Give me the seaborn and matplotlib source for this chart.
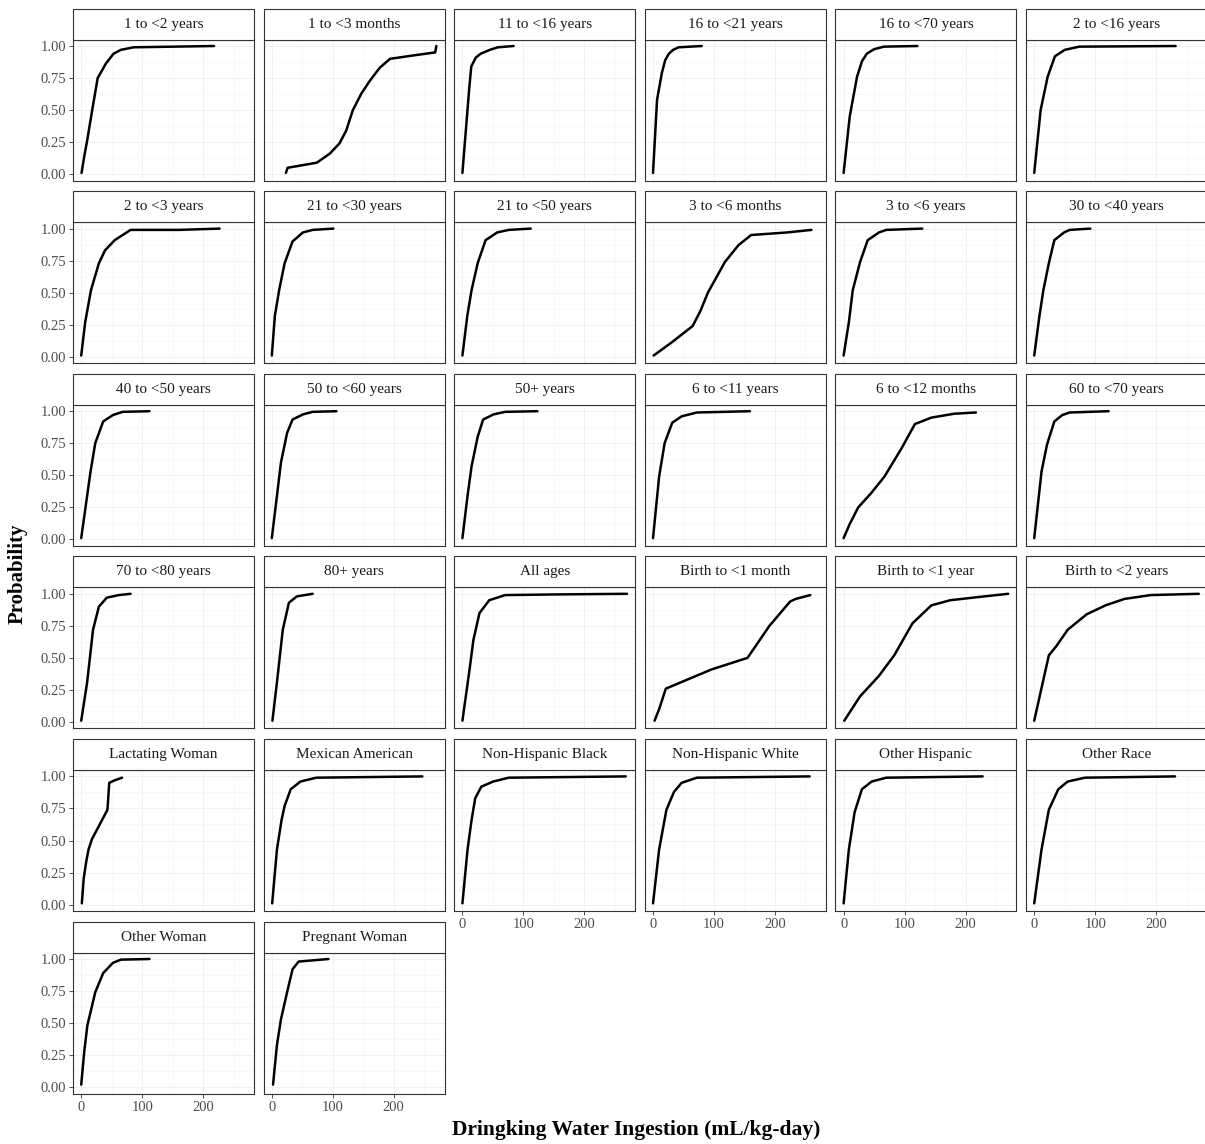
import numpy as np
import pandas as pd
import seaborn as sns
import matplotlib
matplotlib.use("Agg")
import matplotlib.pyplot as plt
from matplotlib.patches import Rectangle
from matplotlib.ticker import FormatStrFormatter

# ---------------- data ----------------
categories = [
    "1 to <2 years", "1 to <3 months", "11 to <16 years", "16 to <21 years", "16 to <70 years", "2 to <16 years",
    "2 to <3 years", "21 to <30 years", "21 to <50 years", "3 to <6 months", "3 to <6 years", "30 to <40 years",
    "40 to <50 years", "50 to <60 years", "50+ years", "6 to <11 years", "6 to <12 months", "60 to <70 years",
    "70 to <80 years", "80+ years", "All ages", "Birth to <1 month", "Birth to <1 year", "Birth to <2 years",
    "Lactating Woman", "Mexican American", "Non-Hispanic Black", "Non-Hispanic White", "Other Hispanic", "Other Race",
    "Other Woman", "Pregnant Woman",
]

x_1to2y = [0.5, 5, 10, 18, 27, 33, 40, 53, 65, 86, 218]
p_1to2y = [0.01, 0.14, 0.27, 0.50, 0.75, 0.80, 0.86, 0.94, 0.97, 0.99, 1.0]
x_1to3m = [23, 26, 50, 74, 95, 111, 122, 133, 147, 161, 177, 194, 230, 268, 270]
p_1to3m = [0.01, 0.05, 0.07, 0.09, 0.16, 0.24, 0.34, 0.50, 0.63, 0.73, 0.83, 0.90, 0.925, 0.95, 1.0]
x_11to16y = [0, 11, 14.5, 22, 30, 45, 58, 84]
p_11to16y = [0.01, 0.66, 0.84, 0.91, 0.94, 0.97, 0.99, 1.0]
x_16to21y = [0, 6.6, 14.5, 20, 26, 33, 42, 80]
p_16to21y = [0.01, 0.58, 0.79, 0.89, 0.94, 0.97, 0.99, 1.0]
x_16to70y = [0, 10, 22, 30, 38, 50, 66, 121]
p_16to70y = [0.01, 0.45, 0.76, 0.88, 0.94, 0.975, 0.995, 1.0]
x_2to16y = [0, 10.5, 22, 34, 50, 74, 232]
p_2to16y = [0.01, 0.50, 0.76, 0.92, 0.97, 0.995, 1.0]
x_2to3y = [0, 6.5, 16, 29, 39, 55, 81, 160, 227]
p_2to3y = [0.01, 0.27, 0.52, 0.73, 0.83, 0.91, 0.99, 0.99, 1.0]
x_21to30y = [0, 5, 12, 21, 34, 51, 67, 101]
p_21to30y = [0.01, 0.32, 0.52, 0.73, 0.90, 0.97, 0.99, 1.0]
x_21to50y = [0, 8, 15, 25, 38, 57, 76, 112]
p_21to50y = [0.01, 0.32, 0.52, 0.73, 0.91, 0.97, 0.99, 1.0]
x_3to6m = [1, 30, 65, 78, 90, 104, 118, 140, 161, 220, 260]
p_3to6m = [0.01, 0.11, 0.24, 0.36, 0.50, 0.62, 0.74, 0.87, 0.95, 0.97, 0.99]
x_3to6y = [0, 8.6, 15, 27, 39.5, 58, 70, 129]
p_3to6y = [0.01, 0.27, 0.52, 0.74, 0.91, 0.97, 0.99, 1.0]
x_30to40y = [0, 8.6, 15, 24, 33, 49, 58, 92]
p_30to40y = [0.01, 0.32, 0.52, 0.73, 0.91, 0.97, 0.99, 1.0]
x_40to50y = [0, 9.7, 15, 23, 36, 52, 68, 112]
p_40to50y = [0.01, 0.34, 0.52, 0.75, 0.92, 0.97, 0.995, 1.0]
x_50to60y = [0, 8.4, 15, 25, 34, 51, 67, 106]
p_50to60y = [0.01, 0.34, 0.60, 0.83, 0.935, 0.975, 0.995, 1.0]
x_50plus = [0, 8.4, 15, 25, 34, 51, 70, 123]
p_50plus = [0.01, 0.34, 0.57, 0.80, 0.935, 0.975, 0.995, 1.0]
x_6to11y = [0, 10, 19, 31.5, 47, 72, 159]
p_6to11y = [0.01, 0.49, 0.75, 0.91, 0.96, 0.99, 1.0]
x_6to12m = [0, 10, 24, 45, 67, 95, 117, 144, 181, 217]
p_6to12m = [0.01, 0.12, 0.25, 0.36, 0.49, 0.71, 0.90, 0.95, 0.98, 0.99]
x_60to70y = [0, 12, 21, 33, 46, 58, 122]
p_60to70y = [0.01, 0.53, 0.74, 0.92, 0.97, 0.99, 1.0]
x_70to80y = [0, 9.7, 19.4, 29, 42, 61.5, 81]
p_70to80y = [0.01, 0.31, 0.72, 0.90, 0.97, 0.99, 1.0]
x_80plus = [1, 8.4, 18, 28, 41, 67]
p_80plus = [0.01, 0.31, 0.72, 0.93, 0.98, 1.0]
x_allages = [0, 11.7, 18, 28, 44, 70, 150, 270]
p_allages = [0.01, 0.41, 0.64, 0.85, 0.95, 0.99, 0.995, 1.0]
x_birth1m = [2.5, 10, 21, 41, 96, 155, 191, 225, 234, 258]
p_birth1m = [0.01, 0.10, 0.26, 0.30, 0.41, 0.50, 0.75, 0.94, 0.96, 0.99]
x_birth1y = [1, 27, 58, 83, 113, 144, 175, 231, 270]
p_birth1y = [0.01, 0.20, 0.36, 0.52, 0.77, 0.91, 0.95, 0.98, 1.0]
x_birth2y = [0, 24, 36, 55, 86, 117, 148, 191, 270]
p_birth2y = [0.01, 0.52, 0.59, 0.72, 0.84, 0.91, 0.96, 0.99, 1.0]
x_lactating = [1, 4, 8, 12, 17.5, 32, 43, 46, 55, 67]
p_lactating = [0.01, 0.20, 0.33, 0.43, 0.51, 0.64, 0.74, 0.95, 0.97, 0.99]
x_mexam = [0.6, 8.4, 16, 21, 31, 47, 73, 247]
p_mexam = [0.01, 0.43, 0.66, 0.77, 0.90, 0.96, 0.99, 1.0]
x_nhblack = [0, 8.4, 15, 21, 31, 50.5, 76, 268]
p_nhblack = [0.01, 0.43, 0.66, 0.83, 0.92, 0.96, 0.99, 1.0]
x_nhwhite = [0, 10, 22, 34.5, 47, 72, 257]
p_nhwhite = [0.01, 0.43, 0.74, 0.88, 0.95, 0.99, 1.0]
x_othhisp = [0, 8.6, 18, 30, 46, 70, 228]
p_othhisp = [0.01, 0.43, 0.72, 0.90, 0.96, 0.99, 1.0]
x_othrace = [0, 12, 24, 39.5, 55, 83, 231]
p_othrace = [0.01, 0.43, 0.74, 0.90, 0.96, 0.99, 1.0]
x_othwoman = [0, 5, 10, 23, 36, 52, 65, 112]
p_othwoman = [0.02, 0.28, 0.48, 0.74, 0.89, 0.97, 0.995, 1.0]
x_pregnant = [2, 8.4, 15, 25, 34, 44, 93]
p_pregnant = [0.02, 0.33, 0.53, 0.74, 0.92, 0.98, 1.0]

series = [
    (x_1to2y, p_1to2y), (x_1to3m, p_1to3m), (x_11to16y, p_11to16y), (x_16to21y, p_16to21y),
    (x_16to70y, p_16to70y), (x_2to16y, p_2to16y), (x_2to3y, p_2to3y), (x_21to30y, p_21to30y),
    (x_21to50y, p_21to50y), (x_3to6m, p_3to6m), (x_3to6y, p_3to6y), (x_30to40y, p_30to40y),
    (x_40to50y, p_40to50y), (x_50to60y, p_50to60y), (x_50plus, p_50plus), (x_6to11y, p_6to11y),
    (x_6to12m, p_6to12m), (x_60to70y, p_60to70y), (x_70to80y, p_70to80y), (x_80plus, p_80plus),
    (x_allages, p_allages), (x_birth1m, p_birth1m), (x_birth1y, p_birth1y), (x_birth2y, p_birth2y),
    (x_lactating, p_lactating), (x_mexam, p_mexam), (x_nhblack, p_nhblack), (x_nhwhite, p_nhwhite),
    (x_othhisp, p_othhisp), (x_othrace, p_othrace), (x_othwoman, p_othwoman), (x_pregnant, p_pregnant),
]

x_ticks = [0, 100, 200]
y_ticks = [0.0, 0.25, 0.5, 0.75, 1.0]

rows = []
for cat, (xs, ps) in zip(categories, series):
    for i, (xv, pv) in enumerate(zip(xs, ps)):
        rows.append({"group": cat, "x": xv, "p": pv, "order": i})
df = pd.DataFrame(rows)

# ---------------- style ----------------
sns.set_theme(style="white")
plt.rcParams["font.family"] = ["Liberation Serif", "DejaVu Serif"]

W, H = 1205, 1144
g = sns.relplot(
    data=df, x="x", y="p", col="group", col_wrap=6, col_order=categories,
    kind="line", estimator=None, sort=False, color="black", linewidth=1.8,
    facet_kws=dict(sharex=True, sharey=True), height=2, aspect=1,
)
fig = g.figure
fig.set_size_inches(W / 100, H / 100)
fig.set_dpi(100)
g.set_axis_labels("", "")
g.set_titles("")

col_pitch, row_pitch = 190.6, 182.6
pw, ph = 181.0, 141.0
strip_h = 31.0
n = len(categories)
ncol = 6

for i, cat in enumerate(categories):
    ax = g.axes_dict[cat]
    r, c = divmod(i, ncol)
    left = 73 + c * col_pitch
    top = 39.6 + r * row_pitch
    ax.set_position([left / W, 1 - (top + ph) / H, pw / W, ph / H])
    ax.set_xlim(-13.5, 283.5)
    ax.set_ylim(-0.05, 1.05)
    ax.set_xticks(x_ticks)
    ax.set_yticks(y_ticks)
    ax.set_xticks([50, 150, 250], minor=True)
    ax.set_yticks([0.125, 0.375, 0.625, 0.875], minor=True)
    ax.yaxis.set_major_formatter(FormatStrFormatter("%.2f"))
    ax.grid(True, which="major", color="#EFEFEF", linewidth=0.6)
    ax.grid(True, which="minor", color="#F6F6F6", linewidth=0.4)
    ax.set_axisbelow(True)
    is_left = (c == 0)
    is_bottom = (i + ncol >= n)
    ax.tick_params(which="major", length=3, width=0.6, color="#333333",
                   labelcolor="#4D4D4D", labelsize=10.5, pad=2,
                   bottom=is_bottom, left=is_left,
                   labelbottom=is_bottom, labelleft=is_left)
    ax.tick_params(which="minor", length=0)
    for s in ax.spines.values():
        s.set_visible(True)
        s.set_color("#333333")
        s.set_linewidth(0.8)
    ax.set_title("")
    ax.set_xlabel("")
    ax.set_ylabel("")
    # strip
    sh = strip_h / ph
    ax.add_patch(Rectangle((0, 1), 1, sh, transform=ax.transAxes, facecolor="white",
                           edgecolor="#333333", linewidth=0.8, clip_on=False, zorder=5))
    ax.text(0.5, 1 + sh / 2, cat, transform=ax.transAxes, ha="center", va="center",
            fontsize=11, color="#1A1A1A", zorder=6)

fig.text(636 / W, 1 - 1130 / H, "Dringking Water Ingestion (mL/kg-day)", ha="center", va="center",
         fontsize=15.5, fontweight="bold", color="black")
fig.text(18 / W, 1 - 574 / H, "Probability", ha="center", va="center", rotation=90,
         fontsize=15, fontweight="bold", color="black")

fig.savefig("out.png", dpi=100)
